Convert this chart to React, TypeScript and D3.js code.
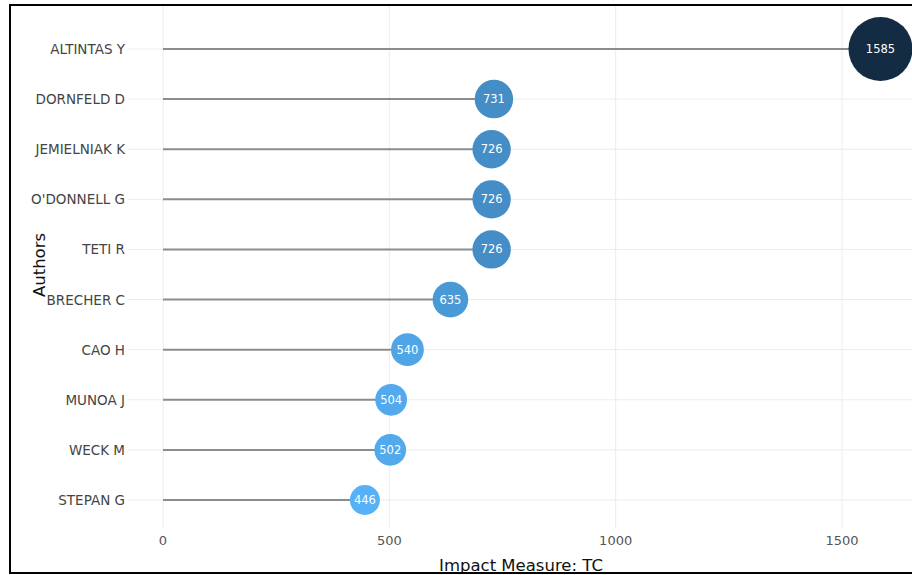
import React from "react";
import * as d3 from "d3";

const authors = ["ALTINTAS Y", "DORNFELD D", "JEMIELNIAK K", "O'DONNELL G", "TETI R", "BRECHER C", "CAO H", "MUNOA J", "WECK M", "STEPAN G"];
const tcValues = [1585, 731, 726, 726, 726, 635, 540, 504, 502, 446];
const xTicks = [0, 500, 1000, 1500];

const W = 912;
const H = 575;
const FONT = "'DejaVu Sans', Verdana, sans-serif";

export default function App() {
  const x = d3.scaleLinear().domain([0, 1500]).range([163, 842]);
  const y = d3.scalePoint<string>().domain(authors).range([49, 500]);
  const minV = d3.min(tcValues) as number;
  const maxV = d3.max(tcValues) as number;
  const r = d3.scaleLinear().domain([minV, maxV]).range([15, 32]);
  const color = d3
    .scaleLinear<string>()
    .domain([minV, maxV])
    .range(["#56B1F7", "#132B43"])
    .interpolate(d3.interpolateLab);

  const plotLeft = 128;
  const plotTop = 5;
  const plotBottom = 529;

  return (
    <svg
      width={W}
      height={H}
      style={{ position: "absolute", left: 0, top: 0, background: "#fff", fontFamily: FONT }}
    >
      {xTicks.map((t) => (
        <line key={"vg" + t} x1={x(t)} x2={x(t)} y1={plotTop} y2={plotBottom} stroke="#ececec" strokeWidth={1} />
      ))}
      {authors.map((a) => (
        <line key={"hg" + a} x1={plotLeft} x2={W} y1={y(a)} y2={y(a)} stroke="#ececec" strokeWidth={1} />
      ))}
      {authors.map((a, i) => (
        <line key={"seg" + a} x1={x(0)} x2={x(tcValues[i])} y1={y(a)} y2={y(a)} stroke="#8c8c8c" strokeWidth={2} />
      ))}
      {authors.map((a, i) => (
        <g key={"pt" + a}>
          <circle cx={x(tcValues[i])} cy={y(a)} r={r(tcValues[i])} fill={color(tcValues[i])} />
          <text
            x={x(tcValues[i])}
            y={y(a)}
            textAnchor="middle"
            dominantBaseline="central"
            fill="#ffffff"
            fontSize={11.5}
          >
            {tcValues[i]}
          </text>
        </g>
      ))}
      {authors.map((a) => (
        <text key={"yl" + a} x={125} y={y(a)} textAnchor="end" dominantBaseline="central" fill="#444444" fontSize={13.5}>
          {a}
        </text>
      ))}
      {xTicks.map((t) => (
        <text key={"xl" + t} x={x(t)} y={540} textAnchor="middle" dominantBaseline="central" fill="#555555" fontSize={13}>
          {t}
        </text>
      ))}
      <text x={521} y={571} textAnchor="middle" fill="#111" fontSize={16.5}>
        Impact Measure: TC
      </text>
      <text transform={`translate(45, 265) rotate(-90)`} textAnchor="middle" fill="#111" fontSize={16.5}>
        Authors
      </text>
      <rect x={10} y={5} width={W + 10} height={568} fill="none" stroke="#000" strokeWidth={2} />
    </svg>
  );
}
